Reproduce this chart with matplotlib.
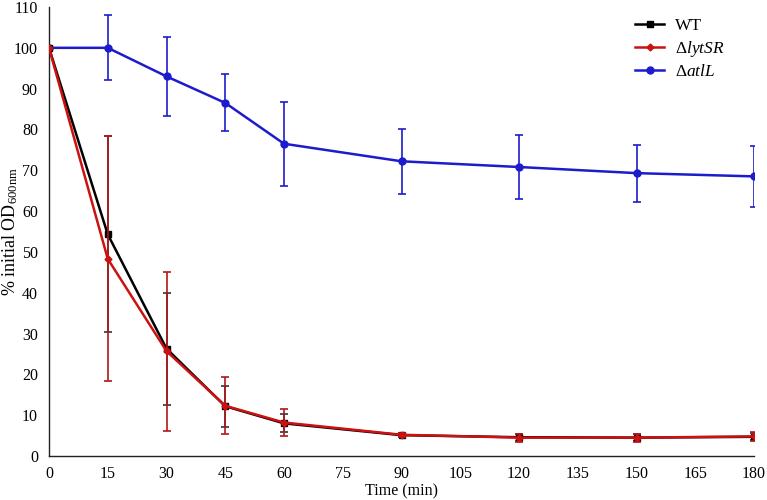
import matplotlib
matplotlib.use("Agg")
import matplotlib.pyplot as plt
from matplotlib.lines import Line2D

time = [0, 15, 30, 45, 60, 90, 120, 150, 180]
wt = [100, 54.3, 26.3, 12.2, 8.0, 5.1, 4.6, 4.5, 4.7]
wt_err = [0, 24.0, 13.7, 5.0, 2.2, 0.5, 0.9, 0.9, 0.9]
lyt = [100, 48.3, 25.7, 12.3, 8.2, 5.2, 4.5, 4.5, 4.8]
lyt_err = [0, 30.0, 19.5, 7.0, 3.2, 0.5, 1.0, 1.0, 1.1]
atl = [100, 100, 93.0, 86.5, 76.5, 72.2, 70.8, 69.3, 68.5]
atl_err = [0, 8.0, 9.7, 7.0, 10.3, 8.0, 7.8, 7.0, 7.5]
labels = ['WT', r'$\Delta\mathit{lytSR}$', r'$\Delta\mathit{atlL}$']

plt.rcParams['font.family'] = ['Liberation Serif', 'DejaVu Serif']
plt.rcParams['mathtext.fontset'] = 'custom'
plt.rcParams['mathtext.rm'] = 'Liberation Serif'
plt.rcParams['mathtext.it'] = 'Liberation Serif:italic'
plt.rcParams['mathtext.bf'] = 'Liberation Serif:bold'

BLUE = '#1c1ccc'
RED = '#cc1111'
fig = plt.figure(figsize=(7.67, 5.0), dpi=100)
ax = fig.add_axes([49/767, 44/500, 705/767, 449/500])

ax.errorbar(time, atl, yerr=atl_err, color=BLUE, ecolor=BLUE, lw=1.8,
            marker='o', ms=5, capsize=3, elinewidth=1.2, capthick=1.2, zorder=3)
ax.errorbar(time, wt, yerr=wt_err, color='black', ecolor='#333333', lw=1.8,
            marker='s', ms=5, capsize=3, elinewidth=1.2, capthick=1.2, zorder=3)
ax.errorbar(time, lyt, yerr=lyt_err, color=RED, ecolor='#b01818', lw=1.8,
            marker='D', ms=3.5, capsize=3, elinewidth=1.2, capthick=1.2, zorder=4)

ax.set_xlim(0, 180)
ax.set_ylim(0, 110)
ax.set_xticks(range(0, 181, 15))
ax.set_yticks(range(0, 111, 10))
ax.tick_params(axis='x', length=0, labelsize=11.5, pad=7)
ax.tick_params(axis='y', length=0, labelsize=11.5, pad=8)
for s in ['top', 'right']:
    ax.spines[s].set_visible(False)
for s in ['left', 'bottom']:
    ax.spines[s].set_color('#222222')
    ax.spines[s].set_linewidth(1.0)

ax.set_xlabel('Time (min)', fontsize=11.5)
ax.xaxis.set_label_coords(0.5, -27/449)
ax.set_ylabel(r'% initial OD$_{\mathrm{600nm}}$', fontsize=13)
ax.yaxis.set_label_coords(-29/705, 0.5)

handles = [Line2D([], [], color='black', lw=1.8, marker='s', ms=5),
           Line2D([], [], color=RED, lw=1.8, marker='D', ms=3.5),
           Line2D([], [], color=BLUE, lw=1.8, marker='o', ms=5)]
ax.legend(handles, labels, loc='upper left', bbox_to_anchor=(0.809, 1.011),
          frameon=False, fontsize=12.5, handlelength=1.7, handletextpad=0.6, labelspacing=0.3)

fig.savefig('out.png', dpi=100)
